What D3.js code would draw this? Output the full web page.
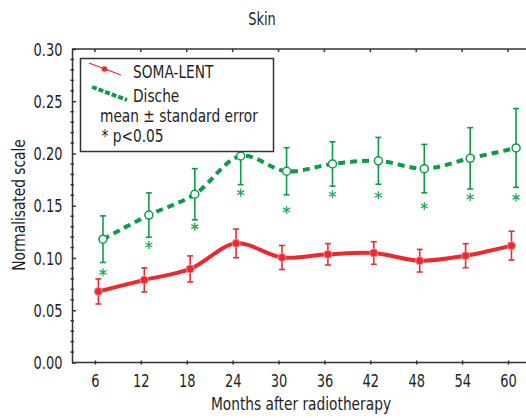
<!DOCTYPE html>
<html>
<head>
<meta charset="utf-8">
<script src="https://cdn.jsdelivr.net/npm/d3@7"></script>
<style>
  body { margin: 0; background: #fff; }
  svg text { font-family: "DejaVu Sans Condensed", "Liberation Sans Narrow", sans-serif; fill: #231f20; }
</style>
</head>
<body>
<script>
// chart values
const months = [6, 12, 18, 24, 30, 36, 42, 48, 54, 60];
const somaMean = [0.068, 0.079, 0.0895, 0.114, 0.1005, 0.1035, 0.1048, 0.0974, 0.1022, 0.1118];
const somaErr = [0.012, 0.0115, 0.0125, 0.0137, 0.0115, 0.0102, 0.0108, 0.0108, 0.0115, 0.0138];
const dischMean = [0.118, 0.1411, 0.161, 0.1976, 0.183, 0.19, 0.193, 0.1855, 0.1954, 0.2053];
const dischErr = [0.0223, 0.0212, 0.0245, 0.0274, 0.0225, 0.0212, 0.0224, 0.0232, 0.0293, 0.0377];
const starLevel = [0.0863, 0.1124, 0.13, 0.1625, 0.146, 0.161, 0.16, 0.1498, 0.1584, 0.158];
const yTicks = [0, 0.05, 0.10, 0.15, 0.20, 0.25, 0.30];

const width = 526, height = 418;
const red = '#ea2a2f', green = '#0f9a48', axisColor = '#333';
const squeeze = 0.85; // the original uses a condensed face, narrower than DejaVu Condensed

const svg = d3.select('body').append('svg')
  .attr('width', width)
  .attr('height', height);

// scales (plot frame runs off the right edge like the original)
const x = d3.scaleLinear().domain([3, 63]).range([72, 531]);
const y = d3.scaleLinear().domain([0, 0.30]).range([362.5, 49]);

// small horizontal dodge between the two series (months)
const somaShift = 0.45, dischShift = 1.05;

const soma = months.map((m, i) => ({ m: m + somaShift, v: somaMean[i], e: somaErr[i] }));
const disch = months.map((m, i) => ({ m: m + dischShift, v: dischMean[i], e: dischErr[i], s: starLevel[i] }));

// text helper: squeezed horizontally around its anchor
function label(parent, px, py, txt, size, anchor, rotate) {
  return parent.append('text')
    .attr('transform', `translate(${px},${py})` + (rotate ? ` rotate(${rotate})` : '') + ` scale(${squeeze},1)`)
    .attr('text-anchor', anchor || 'start')
    .style('font-size', size + 'px')
    .text(txt);
}

// frame: top line with ticks
svg.append('line')
  .attr('x1', x(3)).attr('x2', width).attr('y1', y(0.30)).attr('y2', y(0.30))
  .attr('stroke', axisColor).attr('stroke-width', 1.5);
svg.selectAll('.top-tick').data(months).enter().append('line')
  .attr('x1', d => x(d)).attr('x2', d => x(d))
  .attr('y1', y(0.30)).attr('y2', y(0.30) + 3)
  .attr('stroke', axisColor).attr('stroke-width', 1.5);

// x axis
const xAxis = d3.axisBottom(x).tickValues(months).tickSizeInner(-2).tickSizeOuter(0).tickPadding(8);
const gx = svg.append('g')
  .attr('transform', `translate(0, ${y(0)})`)
  .call(xAxis);
gx.select('.domain').remove();
gx.append('line').attr('x1', x(3)).attr('x2', width).attr('stroke', axisColor).attr('stroke-width', 1.5);
gx.selectAll('.tick line').attr('stroke', axisColor).attr('stroke-width', 1.5).attr('y1', 2);
gx.selectAll('.tick text')
  .style('font-size', '17px')
  .attr('dy', '0.95em')
  .attr('transform', `scale(${squeeze},1)`);

// y axis
const yAxis = d3.axisLeft(y).tickValues(yTicks).tickFormat(d3.format('.2f'))
  .tickSizeInner(-4).tickSizeOuter(0).tickPadding(8);
const gy = svg.append('g')
  .attr('transform', `translate(${x(3)}, 0)`)
  .call(yAxis);
gy.select('.domain').attr('stroke', axisColor).attr('stroke-width', 1.5);
gy.selectAll('.tick line').attr('stroke', axisColor).attr('stroke-width', 1.5);
gy.selectAll('.tick text')
  .style('font-size', '17px')
  .attr('x', -9.5 / squeeze)
  .attr('dy', '0.36em')
  .attr('transform', `scale(${squeeze},1)`);

// minor y ticks every 0.01
const minor = d3.range(0, 0.3001, 0.01).filter(v => Math.abs(v * 20 - Math.round(v * 20)) > 1e-6);
gy.selectAll('.minor').data(minor).enter().append('line')
  .attr('x1', -1.5).attr('x2', 2)
  .attr('y1', d => y(d)).attr('y2', d => y(d))
  .attr('stroke', axisColor).attr('stroke-width', 1.5);

// curves
const curve = d3.line()
  .x(d => x(d.m))
  .y(d => y(d.v))
  .curve(d3.curveCatmullRom.alpha(0.5));

// error bars helper
function errorBars(data, color, cls) {
  const g = svg.append('g').attr('class', cls);
  g.selectAll('.stem').data(data).enter().append('line')
    .attr('x1', d => x(d.m)).attr('x2', d => x(d.m))
    .attr('y1', d => y(d.v + d.e)).attr('y2', d => y(d.v - d.e))
    .attr('stroke', color).attr('stroke-width', 1.6);
  ['top', 'bottom'].forEach(side => {
    g.selectAll('.cap-' + side).data(data).enter().append('line')
      .attr('x1', d => x(d.m) - 3).attr('x2', d => x(d.m) + 3)
      .attr('y1', d => y(side === 'top' ? d.v + d.e : d.v - d.e))
      .attr('y2', d => y(side === 'top' ? d.v + d.e : d.v - d.e))
      .attr('stroke', color).attr('stroke-width', 1.6);
  });
}

// Dische series
errorBars(disch, green, 'disch-err');
svg.append('path')
  .datum(disch)
  .attr('d', curve)
  .attr('fill', 'none')
  .attr('stroke', green)
  .attr('stroke-width', 4)
  .attr('stroke-dasharray', '7,5');
svg.selectAll('.disch-pt').data(disch).enter().append('circle')
  .attr('cx', d => x(d.m)).attr('cy', d => y(d.v)).attr('r', 4)
  .attr('fill', '#fff').attr('stroke', green).attr('stroke-width', 1.5);

// significance asterisks
const star = d3.symbol().type(d3.symbolAsterisk).size(45);
svg.selectAll('.star').data(disch).enter().append('path')
  .attr('transform', d => `translate(${x(d.m)},${y(d.s)})`)
  .attr('d', star)
  .attr('fill', 'none')
  .attr('stroke', '#2aa65a')
  .attr('stroke-width', 1.3);

// SOMA-LENT series
errorBars(soma, red, 'soma-err');
svg.append('path')
  .datum(soma)
  .attr('d', curve)
  .attr('fill', 'none')
  .attr('stroke', red)
  .attr('stroke-width', 4);
svg.selectAll('.soma-pt').data(soma).enter().append('circle')
  .attr('cx', d => x(d.m)).attr('cy', d => y(d.v)).attr('r', 4)
  .attr('fill', red).attr('stroke', '#f48a8d').attr('stroke-width', 1);

// legend
const lg = svg.append('g');
lg.append('rect')
  .attr('x', 80.5).attr('y', 58.5).attr('width', 193).attr('height', 93)
  .attr('fill', '#fff').attr('stroke', axisColor).attr('stroke-width', 1.5);
lg.append('line')
  .attr('x1', 89).attr('y1', 63).attr('x2', 121).attr('y2', 75)
  .attr('stroke', red).attr('stroke-width', 1.3);
lg.append('circle').attr('cx', 104.5).attr('cy', 69).attr('r', 2.8).attr('fill', red);
lg.append('line')
  .attr('x1', 92).attr('y1', 87).attr('x2', 127).attr('y2', 100)
  .attr('stroke', green).attr('stroke-width', 4).attr('stroke-dasharray', '5,2');
label(lg, 133, 77.5, 'SOMA-LENT', 18);
label(lg, 133, 101.5, 'Dische', 18);
label(lg, 100, 121.5, 'mean \u00b1 standard error', 18);
label(lg, 101.5, 141.5, '* p<0.05', 18);

// titles
label(svg, 262, 25, 'Skin', 17, 'middle');
label(svg, 301, 410, 'Months after radiotherapy', 18, 'middle');
label(svg, 25, 205, 'Normalisated scale', 18, 'middle', -90);
</script>
</body>
</html>
